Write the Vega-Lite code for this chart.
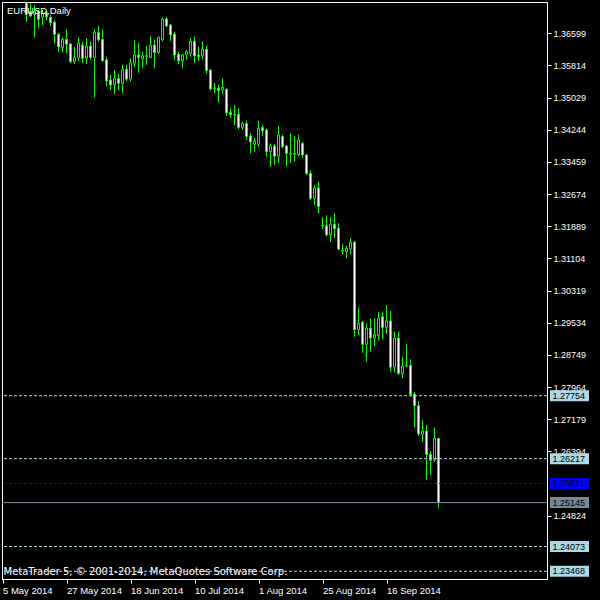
{
  "$schema": "https://vega.github.io/schema/vega-lite/v6.json",
  "width": 545,
  "height": 577,
  "autosize": {"type": "none"},
  "padding": {"left": 2, "top": 2, "right": 53, "bottom": 21},
  "background": "black",
  "config": {
    "view": {"stroke": "white", "strokeWidth": 1},
    "font": "Liberation Sans",
    "axis": {"labelOverlap": false, "labelSeparation": 0, "labelFlush": false, "labelBound": false, "grid": false}
  },
  "title": {"text": "EURUSD,Daily", "anchor": "start", "frame": "group", "orient": "top", "offset": -11, "dy": 10, "baseline": "alphabetic", "dx": 5, "color": "white", "fontSize": 9.5, "fontWeight": "normal", "font": "Liberation Sans"},
  "datasets": {
    "candles": [
      {"i": 6, "date": "2014-05-13", "open": 1.3757, "high": 1.3772, "low": 1.3688, "close": 1.3705},
      {"i": 7, "date": "2014-05-14", "open": 1.3713, "high": 1.3733, "low": 1.3700, "close": 1.3702},
      {"i": 8, "date": "2014-05-15", "open": 1.3706, "high": 1.3729, "low": 1.3650, "close": 1.3713},
      {"i": 9, "date": "2014-05-16", "open": 1.3713, "high": 1.3717, "low": 1.3672, "close": 1.3694},
      {"i": 10, "date": "2014-05-19", "open": 1.3699, "high": 1.3717, "low": 1.3680, "close": 1.3710},
      {"i": 11, "date": "2014-05-20", "open": 1.3710, "high": 1.3715, "low": 1.3692, "close": 1.3700},
      {"i": 12, "date": "2014-05-21", "open": 1.3699, "high": 1.3705, "low": 1.3678, "close": 1.3686},
      {"i": 13, "date": "2014-05-22", "open": 1.3687, "high": 1.3692, "low": 1.3636, "close": 1.36575},
      {"i": 14, "date": "2014-05-23", "open": 1.36575, "high": 1.3660, "low": 1.3615, "close": 1.3627},
      {"i": 15, "date": "2014-05-26", "open": 1.3625, "high": 1.3650, "low": 1.3613, "close": 1.3645},
      {"i": 16, "date": "2014-05-27", "open": 1.3645, "high": 1.3670, "low": 1.3611, "close": 1.3633},
      {"i": 17, "date": "2014-05-28", "open": 1.3634, "high": 1.3636, "low": 1.3587, "close": 1.3591},
      {"i": 18, "date": "2014-05-29", "open": 1.3591, "high": 1.3627, "low": 1.3585, "close": 1.3601},
      {"i": 19, "date": "2014-05-30", "open": 1.3601, "high": 1.3650, "low": 1.3593, "close": 1.3636},
      {"i": 20, "date": "2014-06-02", "open": 1.3631, "high": 1.3640, "low": 1.3587, "close": 1.3599},
      {"i": 21, "date": "2014-06-03", "open": 1.3599, "high": 1.3648, "low": 1.3585, "close": 1.3629},
      {"i": 22, "date": "2014-06-04", "open": 1.3629, "high": 1.3640, "low": 1.3595, "close": 1.3601},
      {"i": 23, "date": "2014-06-05", "open": 1.3601, "high": 1.3670, "low": 1.3504, "close": 1.3662},
      {"i": 24, "date": "2014-06-06", "open": 1.3662, "high": 1.3678, "low": 1.3640, "close": 1.3644},
      {"i": 25, "date": "2014-06-09", "open": 1.3645, "high": 1.3670, "low": 1.3591, "close": 1.3593},
      {"i": 26, "date": "2014-06-10", "open": 1.3595, "high": 1.3603, "low": 1.3531, "close": 1.3544},
      {"i": 27, "date": "2014-06-11", "open": 1.3546, "high": 1.3558, "low": 1.3522, "close": 1.3534},
      {"i": 28, "date": "2014-06-12", "open": 1.3534, "high": 1.3570, "low": 1.3512, "close": 1.3550},
      {"i": 29, "date": "2014-06-13", "open": 1.3550, "high": 1.3561, "low": 1.3522, "close": 1.3538},
      {"i": 30, "date": "2014-06-16", "open": 1.3538, "high": 1.3583, "low": 1.3514, "close": 1.3572},
      {"i": 31, "date": "2014-06-17", "open": 1.3572, "high": 1.3583, "low": 1.3542, "close": 1.3548},
      {"i": 32, "date": "2014-06-18", "open": 1.3548, "high": 1.3599, "low": 1.3542, "close": 1.3588},
      {"i": 33, "date": "2014-06-19", "open": 1.3587, "high": 1.3644, "low": 1.3578, "close": 1.3607},
      {"i": 34, "date": "2014-06-20", "open": 1.3607, "high": 1.3636, "low": 1.3564, "close": 1.3601},
      {"i": 35, "date": "2014-06-23", "open": 1.3597, "high": 1.3615, "low": 1.3575, "close": 1.3605},
      {"i": 36, "date": "2014-06-24", "open": 1.3605, "high": 1.3629, "low": 1.3583, "close": 1.3604},
      {"i": 37, "date": "2014-06-25", "open": 1.3601, "high": 1.3653, "low": 1.3599, "close": 1.3631},
      {"i": 38, "date": "2014-06-26", "open": 1.3631, "high": 1.3644, "low": 1.3575, "close": 1.3613},
      {"i": 39, "date": "2014-06-27", "open": 1.3613, "high": 1.3652, "low": 1.3609, "close": 1.3650},
      {"i": 40, "date": "2014-06-30", "open": 1.3644, "high": 1.3698, "low": 1.3640, "close": 1.3695},
      {"i": 41, "date": "2014-07-01", "open": 1.3695, "high": 1.3700, "low": 1.3675, "close": 1.3678},
      {"i": 42, "date": "2014-07-02", "open": 1.3680, "high": 1.3683, "low": 1.3642, "close": 1.3656},
      {"i": 43, "date": "2014-07-03", "open": 1.3658, "high": 1.3664, "low": 1.3595, "close": 1.3607},
      {"i": 44, "date": "2014-07-04", "open": 1.3609, "high": 1.3615, "low": 1.3585, "close": 1.3593},
      {"i": 45, "date": "2014-07-07", "open": 1.3593, "high": 1.3609, "low": 1.3575, "close": 1.3607},
      {"i": 46, "date": "2014-07-08", "open": 1.3607, "high": 1.3619, "low": 1.3595, "close": 1.3615},
      {"i": 47, "date": "2014-07-09", "open": 1.3611, "high": 1.3648, "low": 1.3603, "close": 1.3641},
      {"i": 48, "date": "2014-07-10", "open": 1.3641, "high": 1.3652, "low": 1.3588, "close": 1.3605},
      {"i": 49, "date": "2014-07-11", "open": 1.3607, "high": 1.3627, "low": 1.3591, "close": 1.3603},
      {"i": 50, "date": "2014-07-14", "open": 1.3605, "high": 1.3641, "low": 1.3597, "close": 1.3621},
      {"i": 51, "date": "2014-07-15", "open": 1.3621, "high": 1.3629, "low": 1.3562, "close": 1.3569},
      {"i": 52, "date": "2014-07-16", "open": 1.3570, "high": 1.3573, "low": 1.3520, "close": 1.3524},
      {"i": 53, "date": "2014-07-17", "open": 1.3526, "high": 1.3539, "low": 1.3514, "close": 1.3525},
      {"i": 54, "date": "2014-07-18", "open": 1.3526, "high": 1.3534, "low": 1.3491, "close": 1.3520},
      {"i": 55, "date": "2014-07-21", "open": 1.3522, "high": 1.3550, "low": 1.3512, "close": 1.3528},
      {"i": 56, "date": "2014-07-22", "open": 1.3523, "high": 1.3526, "low": 1.3458, "close": 1.3466},
      {"i": 57, "date": "2014-07-23", "open": 1.3467, "high": 1.3477, "low": 1.3453, "close": 1.3461},
      {"i": 58, "date": "2014-07-24", "open": 1.3462, "high": 1.3485, "low": 1.3436, "close": 1.34615},
      {"i": 59, "date": "2014-07-25", "open": 1.3462, "high": 1.3477, "low": 1.3426, "close": 1.3430},
      {"i": 60, "date": "2014-07-28", "open": 1.3430, "high": 1.3444, "low": 1.3424, "close": 1.3440},
      {"i": 61, "date": "2014-07-29", "open": 1.3440, "high": 1.3447, "low": 1.3401, "close": 1.3408},
      {"i": 62, "date": "2014-07-30", "open": 1.3409, "high": 1.3416, "low": 1.3367, "close": 1.3395},
      {"i": 63, "date": "2014-07-31", "open": 1.3389, "high": 1.3404, "low": 1.3371, "close": 1.3397},
      {"i": 64, "date": "2014-08-01", "open": 1.3389, "high": 1.3447, "low": 1.3383, "close": 1.3428},
      {"i": 65, "date": "2014-08-04", "open": 1.3430, "high": 1.3436, "low": 1.3409, "close": 1.3422},
      {"i": 66, "date": "2014-08-05", "open": 1.3424, "high": 1.3428, "low": 1.3359, "close": 1.3371},
      {"i": 67, "date": "2014-08-06", "open": 1.3371, "high": 1.3391, "low": 1.3334, "close": 1.3385},
      {"i": 68, "date": "2014-08-07", "open": 1.3385, "high": 1.3390, "low": 1.3339, "close": 1.3360},
      {"i": 69, "date": "2014-08-08", "open": 1.3360, "high": 1.3434, "low": 1.3343, "close": 1.3412},
      {"i": 70, "date": "2014-08-11", "open": 1.3408, "high": 1.3412, "low": 1.3379, "close": 1.3383},
      {"i": 71, "date": "2014-08-12", "open": 1.3385, "high": 1.3387, "low": 1.3334, "close": 1.3367},
      {"i": 72, "date": "2014-08-13", "open": 1.33655, "high": 1.3416, "low": 1.3343, "close": 1.3365},
      {"i": 73, "date": "2014-08-14", "open": 1.3365, "high": 1.3409, "low": 1.3347, "close": 1.3367},
      {"i": 74, "date": "2014-08-15", "open": 1.3363, "high": 1.3412, "low": 1.3359, "close": 1.3400},
      {"i": 75, "date": "2014-08-18", "open": 1.3391, "high": 1.3395, "low": 1.3355, "close": 1.3363},
      {"i": 76, "date": "2014-08-19", "open": 1.3363, "high": 1.3365, "low": 1.3314, "close": 1.3318},
      {"i": 77, "date": "2014-08-20", "open": 1.3318, "high": 1.3326, "low": 1.3253, "close": 1.3257},
      {"i": 78, "date": "2014-08-21", "open": 1.3257, "high": 1.3290, "low": 1.3241, "close": 1.3282},
      {"i": 79, "date": "2014-08-22", "open": 1.3282, "high": 1.3298, "low": 1.3221, "close": 1.3237},
      {"i": 80, "date": "2014-08-25", "open": 1.3191, "high": 1.3211, "low": 1.3182, "close": 1.3190},
      {"i": 81, "date": "2014-08-26", "open": 1.3190, "high": 1.3216, "low": 1.3164, "close": 1.3168},
      {"i": 82, "date": "2014-08-27", "open": 1.3168, "high": 1.3211, "low": 1.3151, "close": 1.3194},
      {"i": 83, "date": "2014-08-28", "open": 1.3194, "high": 1.3221, "low": 1.3160, "close": 1.3183},
      {"i": 84, "date": "2014-08-29", "open": 1.3184, "high": 1.3196, "low": 1.3131, "close": 1.3133},
      {"i": 85, "date": "2014-09-01", "open": 1.3130, "high": 1.3145, "low": 1.3121, "close": 1.3129},
      {"i": 86, "date": "2014-09-02", "open": 1.3127, "high": 1.3141, "low": 1.3111, "close": 1.3135},
      {"i": 87, "date": "2014-09-03", "open": 1.3133, "high": 1.3160, "low": 1.3121, "close": 1.3150},
      {"i": 88, "date": "2014-09-04", "open": 1.3150, "high": 1.3154, "low": 1.2919, "close": 1.2937},
      {"i": 89, "date": "2014-09-05", "open": 1.2937, "high": 1.2989, "low": 1.2924, "close": 1.2952},
      {"i": 90, "date": "2014-09-08", "open": 1.2955, "high": 1.2958, "low": 1.2880, "close": 1.2901},
      {"i": 91, "date": "2014-09-09", "open": 1.2901, "high": 1.2952, "low": 1.2859, "close": 1.2940},
      {"i": 92, "date": "2014-09-10", "open": 1.2940, "high": 1.2964, "low": 1.2883, "close": 1.2916},
      {"i": 93, "date": "2014-09-11", "open": 1.2916, "high": 1.2964, "low": 1.2897, "close": 1.2924},
      {"i": 94, "date": "2014-09-12", "open": 1.2922, "high": 1.2979, "low": 1.2910, "close": 1.2964},
      {"i": 95, "date": "2014-09-15", "open": 1.2968, "high": 1.2981, "low": 1.2913, "close": 1.2942},
      {"i": 96, "date": "2014-09-16", "open": 1.2942, "high": 1.2997, "low": 1.2926, "close": 1.2958},
      {"i": 97, "date": "2014-09-17", "open": 1.2958, "high": 1.2982, "low": 1.2834, "close": 1.2845},
      {"i": 98, "date": "2014-09-18", "open": 1.2845, "high": 1.2932, "low": 1.2832, "close": 1.2916},
      {"i": 99, "date": "2014-09-19", "open": 1.2916, "high": 1.2932, "low": 1.2826, "close": 1.2830},
      {"i": 100, "date": "2014-09-22", "open": 1.2829, "high": 1.2871, "low": 1.2818, "close": 1.2848},
      {"i": 101, "date": "2014-09-23", "open": 1.2848, "high": 1.2902, "low": 1.2846, "close": 1.2849},
      {"i": 102, "date": "2014-09-24", "open": 1.2849, "high": 1.2864, "low": 1.2773, "close": 1.2779},
      {"i": 103, "date": "2014-09-25", "open": 1.2779, "high": 1.2784, "low": 1.2698, "close": 1.2751},
      {"i": 104, "date": "2014-09-26", "open": 1.2751, "high": 1.2762, "low": 1.2677, "close": 1.2682},
      {"i": 105, "date": "2014-09-29", "open": 1.2681, "high": 1.2716, "low": 1.2663, "close": 1.2689},
      {"i": 106, "date": "2014-09-30", "open": 1.2689, "high": 1.2704, "low": 1.2570, "close": 1.2632},
      {"i": 107, "date": "2014-10-01", "open": 1.2632, "high": 1.2640, "low": 1.2582, "close": 1.2618},
      {"i": 108, "date": "2014-10-02", "open": 1.2618, "high": 1.2698, "low": 1.2614, "close": 1.2671},
      {"i": 109, "date": "2014-10-03", "open": 1.2671, "high": 1.2673, "low": 1.2501, "close": 1.25145}
    ],
    "levels": [
      {"price": 1.27754, "kind": "level"},
      {"price": 1.26217, "kind": "level"},
      {"price": 1.25611, "kind": "order"},
      {"price": 1.25145, "kind": "bid"},
      {"price": 1.24073, "kind": "level"},
      {"price": 1.23468, "kind": "level"}
    ]
  },
  "layer": [
    {
      "data": {"name": "candles"},
      "mark": {"type": "rule", "color": "#00FF00", "strokeWidth": 1, "clip": true},
      "encoding": {
        "x": {
          "field": "i", "type": "quantitative",
          "scale": {"domain": [-0.125, 136.125], "nice": false, "zero": false, "padding": 0},
          "axis": {
            "values": [0, 16, 32, 48, 64, 80, 96],
            "labelExpr": "datum.value==0?'5 May 2014':datum.value==16?'27 May 2014':datum.value==32?'18 Jun 2014':datum.value==48?'10 Jul 2014':datum.value==64?'1 Aug 2014':datum.value==80?'25 Aug 2014':'16 Sep 2014'",
            "labelAlign": "left", "labelBaseline": "top", "labelPadding": 2,
            "labelFont": "Liberation Sans", "labelFontSize": 9.5, "labelColor": "white",
            "labelFlush": false, "labelOverlap": false, "labelBound": false,
            "tickSize": 4, "tickColor": "white", "domainColor": "white", "grid": false,
            "title": "MetaTrader 5, © 2001-2014, MetaQuotes Software Corp.",
            "titleX": 1, "titleY": -5, "titleAlign": "left", "titleAnchor": "start", "titleBaseline": "alphabetic",
            "titleColor": "white", "titleFont": "DejaVu Sans", "titleFontSize": 10, "titleFontWeight": "normal"
          }
        },
        "y": {
          "field": "low", "type": "quantitative",
          "scale": {"domain": [1.2328, 1.37363], "nice": false, "zero": false, "padding": 0},
          "axis": {
            "orient": "right",
            "values": [1.24824, 1.26394, 1.27179, 1.27964, 1.28749, 1.29534, 1.30319, 1.31104, 1.31889, 1.32674, 1.33459, 1.34244, 1.35029, 1.35814, 1.36599],
            "format": ".5f", "title": null, "grid": false,
            "labelFont": "Liberation Sans", "labelFontSize": 9, "labelColor": "white", "labelPadding": 2,
            "labelFlush": false, "labelOverlap": false, "labelBound": false, "labelSeparation": 0,
            "tickSize": 4, "tickColor": "white", "domainColor": "white"
          }
        },
        "y2": {"field": "high"}
      }
    },
    {
      "data": {"name": "candles"},
      "mark": {"type": "bar", "size": 2, "stroke": "#00FF00", "strokeWidth": 1, "clip": true},
      "encoding": {
        "x": {"field": "i", "type": "quantitative"},
        "y": {"field": "open", "type": "quantitative"},
        "y2": {"field": "close"},
        "fill": {"condition": {"test": "datum.close < datum.open", "value": "white"}, "value": "black"}
      }
    },
    {
      "data": {"name": "levels"},
      "mark": {"type": "rule", "strokeWidth": 1},
      "encoding": {
        "y": {"field": "price", "type": "quantitative"},
        "color": {"field": "kind", "type": "nominal", "scale": {"domain": ["level", "order", "bid"], "range": ["#ADD8E6", "#0000FF", "#778899"]}, "legend": null},
        "strokeDash": {"field": "kind", "type": "nominal", "scale": {"domain": ["level", "order", "bid"], "range": [[3, 2], [3, 2], [1, 0]]}, "legend": null}
      }
    },
    {
      "data": {"name": "levels"},
      "mark": {"type": "tick", "orient": "horizontal", "size": 39, "thickness": 11, "opacity": 1, "clip": false},
      "encoding": {
        "x": {"datum": 141.75, "type": "quantitative"},
        "y": {"field": "price", "type": "quantitative"},
        "color": {"field": "kind", "type": "nominal", "legend": null}
      }
    },
    {
      "data": {"name": "levels"},
      "mark": {"type": "text", "align": "left", "baseline": "middle", "font": "Liberation Sans", "fontSize": 9, "color": "black", "clip": false},
      "encoding": {
        "x": {"datum": 137.5, "type": "quantitative"},
        "y": {"field": "price", "type": "quantitative"},
        "text": {"field": "price", "type": "quantitative", "format": ".5f"}
      }
    }
  ]
}
